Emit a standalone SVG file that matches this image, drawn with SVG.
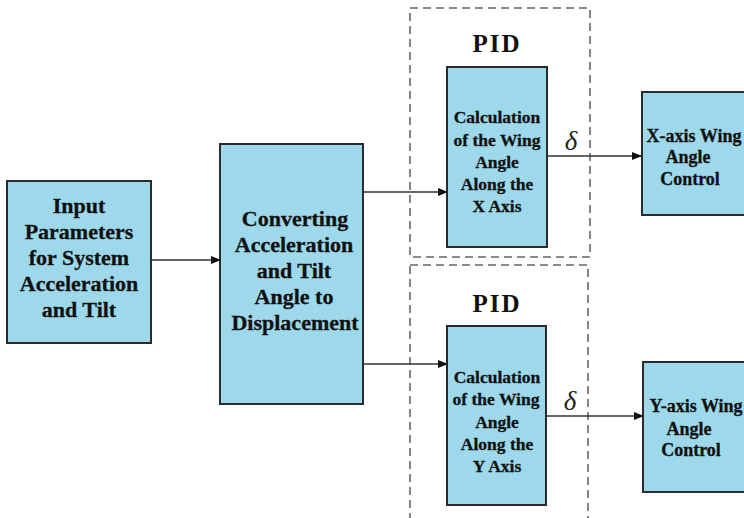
<svg xmlns="http://www.w3.org/2000/svg" width="744" height="518" viewBox="0 0 744 518">
<style>
.box{fill:#9DD9EA;stroke:#2b2b2b;stroke-width:2}
.t{font-family:"Liberation Serif",serif;font-weight:bold;fill:#111;text-anchor:middle;stroke:#111;stroke-width:0.3}
.dash{fill:none;stroke:#666;stroke-width:1.6;stroke-dasharray:8,5}
.ln{stroke:#333;stroke-width:1.3;fill:none;marker-end:url(#ah)}
.pid{font-family:"Liberation Serif",serif;font-weight:bold;font-size:25px;letter-spacing:2px;fill:#111;text-anchor:middle}
.d{font-family:"Liberation Serif",serif;font-style:italic;font-size:27px;fill:#222;text-anchor:middle}
</style>
<defs>
<marker id="ah" markerWidth="10" markerHeight="8" refX="9" refY="4" orient="auto" markerUnits="userSpaceOnUse">
<path d="M0,0 L10,4 L0,8 Z" fill="#111"/>
</marker>
</defs>
<rect width="744" height="518" fill="#fff"/>
<g id="pid-x">
<rect class="dash" x="410" y="8" width="180" height="249"/>
<text class="pid" x="497" y="52">PID</text>
</g>
<g id="pid-y">
<rect class="dash" x="410" y="265" width="178" height="262"/>
<text class="pid" x="497" y="312">PID</text>
</g>
<g id="input">
<rect class="box" x="7" y="181" width="144" height="162"/>
<text class="t" font-size="22" x="79" y="213">Input</text>
<text class="t" font-size="22" x="79" y="239">Parameters</text>
<text class="t" font-size="22" x="79" y="265">for System</text>
<text class="t" font-size="22" x="79" y="291">Acceleration</text>
<text class="t" font-size="22" x="79" y="317">and Tilt</text>
</g>
<g id="convert">
<rect class="box" x="220" y="144" width="143" height="260"/>
<text class="t" font-size="22" x="295" y="226">Converting</text>
<text class="t" font-size="22" x="294" y="252">Acceleration</text>
<text class="t" font-size="22" x="294" y="278">and Tilt</text>
<text class="t" font-size="22" x="294" y="304">Angle to</text>
<text class="t" font-size="22" x="295" y="330">Displacement</text>
</g>
<g id="calc-x">
<rect class="box" x="447" y="67" width="100" height="180"/>
<text class="t" font-size="17.5" x="497" y="123">Calculation</text>
<text class="t" font-size="17.5" x="497" y="146">of the Wing</text>
<text class="t" font-size="17.5" x="497" y="168">Angle</text>
<text class="t" font-size="17.5" x="497" y="190">Along the</text>
<text class="t" font-size="17.5" x="497" y="212">X Axis</text>
</g>
<g id="calc-y">
<rect class="box" x="447" y="326" width="99" height="179"/>
<text class="t" font-size="17.5" x="497" y="383">Calculation</text>
<text class="t" font-size="17.5" x="496" y="405">of the Wing</text>
<text class="t" font-size="17.5" x="497" y="428">Angle</text>
<text class="t" font-size="17.5" x="497" y="450">Along the</text>
<text class="t" font-size="17.5" x="497" y="472">Y Axis</text>
</g>
<g id="ctrl-x">
<rect class="box" x="642" y="92" width="110" height="123"/>
<text class="t" font-size="18" x="694" y="142">X-axis Wing</text>
<text class="t" font-size="18" x="688" y="163">Angle</text>
<text class="t" font-size="18" x="690" y="185">Control</text>
</g>
<g id="ctrl-y">
<rect class="box" x="643" y="362" width="110" height="130"/>
<text class="t" font-size="18" x="696" y="412">Y-axis Wing</text>
<text class="t" font-size="18" x="689" y="435">Angle</text>
<text class="t" font-size="18" x="691" y="456">Control</text>
</g>
<g id="connectors">
<line class="ln" x1="151" y1="260" x2="220" y2="260"/>
<line class="ln" x1="363" y1="192" x2="447" y2="192"/>
<line class="ln" x1="363" y1="364" x2="447" y2="364"/>
<line class="ln" x1="547" y1="156" x2="641" y2="156"/>
<line class="ln" x1="546" y1="416" x2="643" y2="416"/>
<text class="d" x="571" y="150">δ</text>
<text class="d" x="570" y="410">δ</text>
</g>
</svg>
